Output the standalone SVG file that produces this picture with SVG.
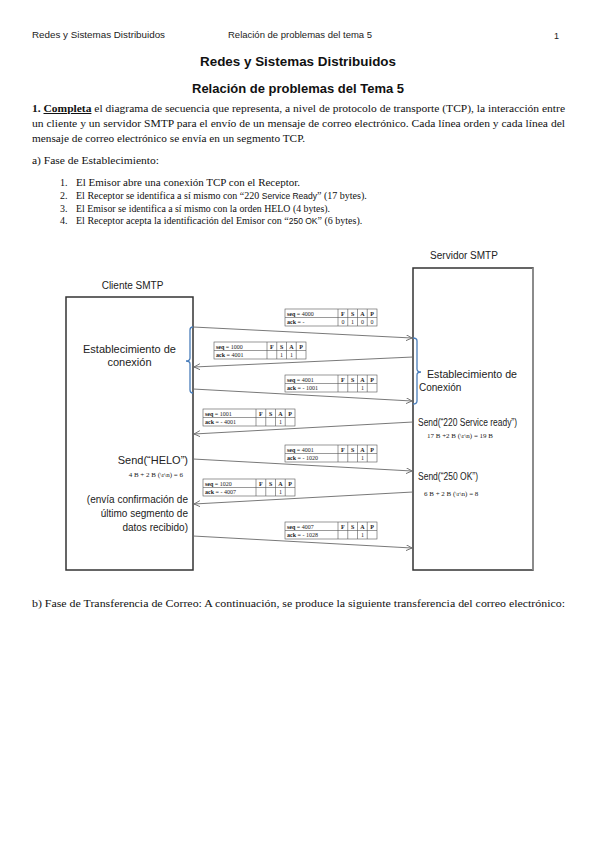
<svg xmlns="http://www.w3.org/2000/svg" width="600" height="848" viewBox="0 0 600 848">
<style>
.hdr{font-family:"Liberation Sans",Arial,sans-serif;font-size:9px;fill:#222}
.title{font-family:"Liberation Sans",Arial,sans-serif;font-size:13px;font-weight:bold;fill:#111;text-anchor:middle}
.body{font-family:"Liberation Serif","Times New Roman",serif;font-size:10px;fill:#111}
.sans{font-family:"Liberation Sans",Arial,sans-serif;font-size:8.5px}
.lbl{font-family:"Liberation Sans",Arial,sans-serif;font-size:10px;fill:#222}
.lbl11{font-family:"Liberation Sans",Arial,sans-serif;font-size:11px;fill:#222}
.small{font-family:"Liberation Serif","Times New Roman",serif;font-size:7px;fill:#222}
.tb{fill:#fff;stroke:#555;stroke-width:0.6}
.tl{stroke:#555;stroke-width:0.6}
.tt{font-family:"Liberation Serif","Times New Roman",serif;font-size:6px;fill:#222}
.tc{font-family:"Liberation Serif","Times New Roman",serif;font-size:6px;fill:#222;text-anchor:middle}
.box{fill:#fff;stroke:#333;stroke-width:1.5}
.arr{stroke:#6a6a6a;stroke-width:0.9;fill:none;marker-end:url(#ah)}
.brace{fill:none;stroke:#4a7ebb;stroke-width:1.3}
</style>
<defs>
<marker id="ah" markerWidth="7" markerHeight="7" refX="6" refY="3" orient="auto" markerUnits="userSpaceOnUse">
<path d="M0,0 L6,3 L0,6" fill="none" stroke="#6a6a6a" stroke-width="0.9"/>
</marker>
<g id="tbl">
<rect class="tb" x="0" y="0" width="92" height="17"/>
<line class="tl" x1="0" y1="8.5" x2="92" y2="8.5"/>
<line class="tl" x1="53" y1="0" x2="53" y2="17"/>
<line class="tl" x1="62.75" y1="0" x2="62.75" y2="17"/>
<line class="tl" x1="72.5" y1="0" x2="72.5" y2="17"/>
<line class="tl" x1="82.25" y1="0" x2="82.25" y2="17"/>
<text class="tc" font-weight="bold" x="57.9" y="6.6">F</text>
<text class="tc" font-weight="bold" x="67.6" y="6.6">S</text>
<text class="tc" font-weight="bold" x="77.4" y="6.6">A</text>
<text class="tc" font-weight="bold" x="87.1" y="6.6">P</text>
</g>
</defs>
<rect width="600" height="848" fill="#fff"/>

<g id="header">
<text class="hdr" x="32" y="38" textLength="133" lengthAdjust="spacingAndGlyphs">Redes y Sistemas Distribuidos</text>
<text class="hdr" x="228" y="38" textLength="144" lengthAdjust="spacingAndGlyphs">Relación de problemas del tema 5</text>
<text class="hdr" x="554" y="39" font-size="10">1</text>
</g>

<g id="titles">
<text class="title" x="298" y="66" textLength="196" lengthAdjust="spacingAndGlyphs">Redes y Sistemas Distribuidos</text>
<text class="title" x="298" y="93" textLength="212" lengthAdjust="spacingAndGlyphs">Relación de problemas del Tema 5</text>
</g>

<g id="statement">
<text class="body" x="32" y="112" textLength="533" lengthAdjust="spacingAndGlyphs"><tspan font-weight="bold">1. </tspan><tspan font-weight="bold" text-decoration="underline">Completa</tspan> el diagrama de secuencia que representa, a nivel de protocolo de transporte (TCP), la interacción entre</text>
<text class="body" x="32" y="127" textLength="533" lengthAdjust="spacingAndGlyphs">un cliente y un servidor SMTP para el envío de un mensaje de correo electrónico. Cada línea orden y cada línea del</text>
<text class="body" x="32" y="142" textLength="273" lengthAdjust="spacingAndGlyphs">mensaje de correo electrónico se envía en un segmento TCP.</text>
<text class="body" x="32" y="164" textLength="127" lengthAdjust="spacingAndGlyphs">a) Fase de Establecimiento:</text>
<text class="body" x="60" y="186">1.</text>
<text class="body" x="76" y="186" textLength="224" lengthAdjust="spacingAndGlyphs">El Emisor abre una conexión TCP con el Receptor.</text>
<text class="body" x="60" y="199">2.</text>
<text class="body" x="76" y="199">El Receptor se identifica a sí mismo con “220 <tspan class="sans">Service Ready</tspan>” (17 bytes).</text>
<text class="body" x="60" y="212">3.</text>
<text class="body" x="76" y="212" textLength="254" lengthAdjust="spacingAndGlyphs">El Emisor se identifica a sí mismo con la orden HELO (4 bytes).</text>
<text class="body" x="60" y="224">4.</text>
<text class="body" x="76" y="224">El Receptor acepta la identificación del Emisor con “<tspan class="sans">250 OK</tspan>” (6 bytes).</text>
<text class="body" x="32" y="607" textLength="533" lengthAdjust="spacingAndGlyphs">b) Fase de Transferencia de Correo: A continuación, se produce la siguiente transferencia del correo electrónico:</text>
</g>

<g id="cliente">
<text class="lbl" x="132.5" y="289" text-anchor="middle">Cliente SMTP</text>
<rect class="box" x="66" y="297" width="127" height="273"/>
<text class="lbl11" x="129.5" y="353" text-anchor="middle">Establecimiento de</text>
<text class="lbl11" x="129.5" y="366" text-anchor="middle">conexión</text>
<text class="lbl11" x="188" y="464" text-anchor="end">Send(“HELO”)</text>
<text class="small" x="183" y="477" text-anchor="end">4 B + 2 B (\r\n) = 6</text>
<text class="lbl" x="188" y="503" text-anchor="end">(envía confirmación de</text>
<text class="lbl" x="188" y="517" text-anchor="end">último segmento de</text>
<text class="lbl" x="188" y="531" text-anchor="end">datos recibido)</text>
</g>

<g id="servidor">
<text class="lbl" x="464" y="259" text-anchor="middle">Servidor SMTP</text>
<rect class="box" x="413" y="268" width="120" height="302"/>
<line x1="533" y1="268" x2="533" y2="570" stroke="#999" stroke-width="1.5"/>
<text class="lbl" x="427" y="378" textLength="90" lengthAdjust="spacingAndGlyphs">Establecimiento de</text>
<text class="lbl" x="419" y="391">Conexión</text>
<text class="lbl" x="418" y="426" font-size="9" textLength="99" lengthAdjust="spacingAndGlyphs">Send(“220 Service ready”)</text>
<text class="small" x="427" y="438">17 B +2 B (\r\n) = 19 B</text>
<text class="lbl" x="418" y="480" font-size="9" textLength="60" lengthAdjust="spacingAndGlyphs">Send(“250 OK”)</text>
<text class="small" x="424" y="496">6 B + 2 B (\r\n) = 8</text>
</g>

<g id="braces">
<path class="brace" d="M193,327 Q190,327 190,330 L190,358 Q190,361 186,361 Q190,361 190,364 L190,390 Q190,393 193,393"/>
<path class="brace" d="M413,338 Q417,338 417,341 L417,369 Q417,372 421,372 Q417,372 417,375 L417,401 Q417,404 413,404"/>
</g>

<g id="connectors">
<line class="arr" x1="193" y1="327" x2="412" y2="338"/>
<line class="arr" x1="413" y1="357" x2="194" y2="367"/>
<line class="arr" x1="193" y1="389" x2="412" y2="401"/>
<line class="arr" x1="413" y1="422" x2="194" y2="434"/>
<line class="arr" x1="193" y1="459" x2="412" y2="471"/>
<line class="arr" x1="413" y1="492" x2="194" y2="504"/>
<line class="arr" x1="193" y1="536" x2="412" y2="548"/>
</g>

<g id="seg1" transform="translate(285,309)">
<use href="#tbl"/>
<text class="tt" x="2" y="6.6"><tspan font-weight="bold">seq</tspan> = 4000</text>
<text class="tt" x="2" y="15.1"><tspan font-weight="bold">ack</tspan> = -</text>
<text class="tc" x="57.9" y="15.1">0</text><text class="tc" x="67.6" y="15.1">1</text><text class="tc" x="77.4" y="15.1">0</text><text class="tc" x="87.1" y="15.1">0</text>
</g>
<g id="seg2" transform="translate(214,342)">
<use href="#tbl"/>
<text class="tt" x="2" y="6.6"><tspan font-weight="bold">seq</tspan> = 1000</text>
<text class="tt" x="2" y="15.1"><tspan font-weight="bold">ack</tspan> = 4001</text>
<text class="tc" x="67.6" y="15.1">1</text><text class="tc" x="77.4" y="15.1">1</text>
</g>
<g id="seg3" transform="translate(285,375)">
<use href="#tbl"/>
<text class="tt" x="2" y="6.6"><tspan font-weight="bold">seq</tspan> =  4001</text>
<text class="tt" x="2" y="15.1"><tspan font-weight="bold">ack</tspan> = - 1001</text>
<text class="tc" x="77.4" y="15.1">1</text>
</g>
<g id="seg4" transform="translate(203,409)">
<use href="#tbl"/>
<text class="tt" x="2" y="6.6"><tspan font-weight="bold">seq</tspan> =  1001</text>
<text class="tt" x="2" y="15.1"><tspan font-weight="bold">ack</tspan> = - 4001</text>
<text class="tc" x="77.4" y="15.1">1</text>
</g>
<g id="seg5" transform="translate(285,445)">
<use href="#tbl"/>
<text class="tt" x="2" y="6.6"><tspan font-weight="bold">seq</tspan> = 4001</text>
<text class="tt" x="2" y="15.1"><tspan font-weight="bold">ack</tspan> = -  1020</text>
<text class="tc" x="77.4" y="15.1">1</text>
</g>
<g id="seg6" transform="translate(203,479)">
<use href="#tbl"/>
<text class="tt" x="2" y="6.6"><tspan font-weight="bold">seq</tspan> =   1020</text>
<text class="tt" x="2" y="15.1"><tspan font-weight="bold">ack</tspan> = -  4007</text>
<text class="tc" x="77.4" y="15.1">1</text>
</g>
<g id="seg7" transform="translate(285,522)">
<use href="#tbl"/>
<text class="tt" x="2" y="6.6"><tspan font-weight="bold">seq</tspan> =  4007</text>
<text class="tt" x="2" y="15.1"><tspan font-weight="bold">ack</tspan> = - 1028</text>
<text class="tc" x="77.4" y="15.1">1</text>
</g>
</svg>
